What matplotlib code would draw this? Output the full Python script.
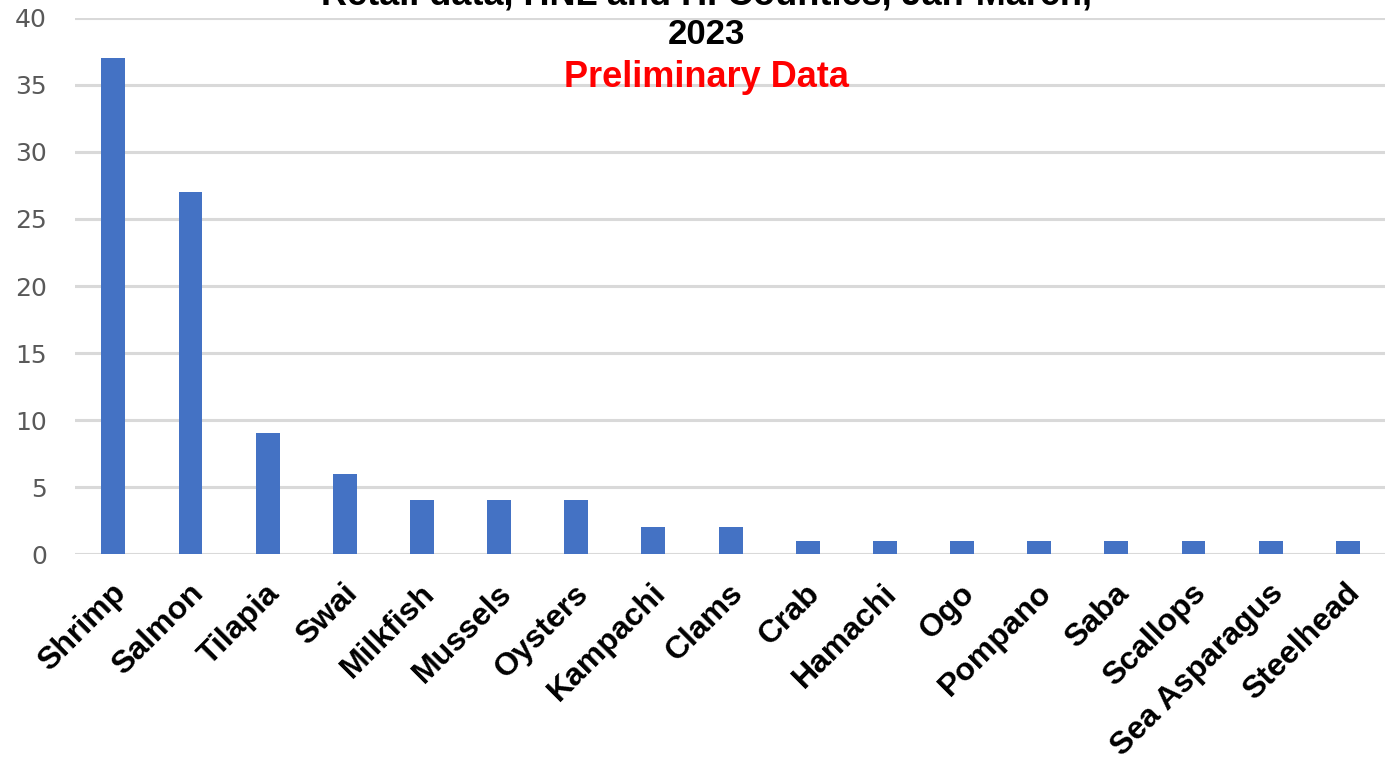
"""Retail seafood counts bar chart."""
import matplotlib
matplotlib.use("Agg")
import matplotlib.pyplot as plt
import matplotlib.transforms as mtransforms

# data:
species = [
    "Shrimp", "Salmon", "Tilapia", "Swai", "Milkfish", "Mussels",
    "Oysters", "Kampachi", "Clams", "Crab", "Hamachi", "Ogo",
    "Pompano", "Saba", "Scallops", "Sea Asparagus", "Steelhead",
]
counts = [37, 27, 9, 6, 4, 4, 4, 2, 2, 1, 1, 1, 1, 1, 1, 1, 1]
yticks = [0, 5, 10, 15, 20, 25, 30, 35, 40]

title_lines = ["Retail data, HNL and HI Counties, Jan-March,", "2023"]
subtitle = "Preliminary Data"

# plot:
fig = plt.figure(figsize=(13.85, 7.68), dpi=100)
ax = fig.add_axes([0.054, 0.2786, 0.947, 0.698])

x = range(len(species))
ax.bar(x, counts, width=0.31, color="#4472C4", zorder=3)

ax.set_xlim(-0.5, len(species) - 0.5)
ax.set_ylim(0, 40)
ax.set_yticks(yticks)
ax.yaxis.grid(True, color="#d9d9d9", linewidth=2.2, zorder=0)
for s in ax.spines.values():
    s.set_visible(False)
ax.tick_params(axis="y", length=0, pad=20, labelsize=18, labelcolor="#595959")
ax.tick_params(axis="x", length=0, pad=25)

ax.set_xticks(list(x))
ax.set_xticklabels(
    species,
    rotation=45,
    ha="right",
    va="center",
    rotation_mode="anchor",
    fontsize=23,
    fontweight="bold",
    family="Liberation Sans",
    color="black",
)
# nudge labels right so they end just past the bar:
shift = mtransforms.ScaledTranslation(8 / 100, 0, fig.dpi_scale_trans)
for lab in ax.get_xticklabels():
    lab.set_transform(lab.get_transform() + shift)

# title, top line is cropped in the reference:
fig.text(0.51, 1.006, title_lines[0], ha="center", va="center",
         fontsize=26, fontweight="bold", family="Liberation Sans")
fig.text(0.51, 0.955, title_lines[1], ha="center", va="center",
         fontsize=25, fontweight="bold", family="Liberation Sans")
fig.text(0.51, 0.899, subtitle, ha="center", va="center",
         fontsize=26, fontweight="bold", family="Liberation Sans",
         color="#ff0000")

fig.savefig("out.png", dpi=100)
